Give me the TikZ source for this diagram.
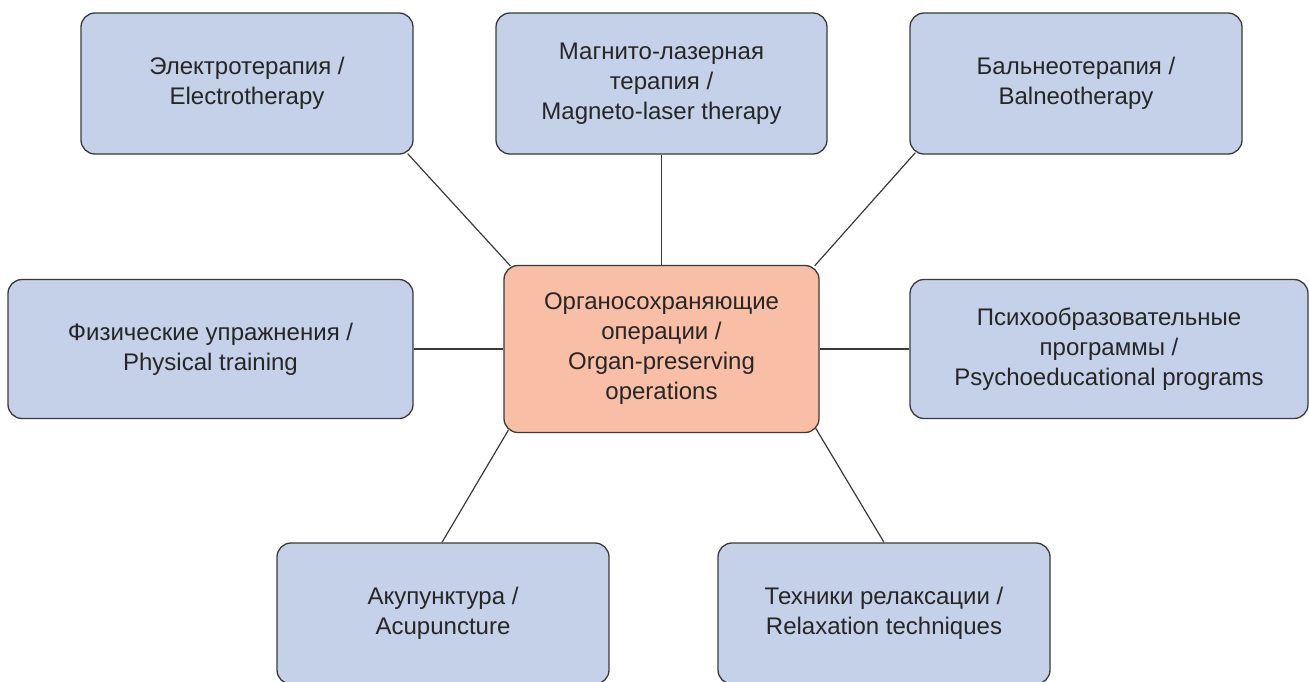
\documentclass[tikz,border=0pt]{standalone}
\usepackage{fontspec}
\setmainfont{Liberation Sans}
\definecolor{boxblue}{HTML}{C5D0E9}
\definecolor{boxsalmon}{HTML}{F8BEA6}
\definecolor{edgegray}{HTML}{3A3A3A}
\definecolor{txtgray}{HTML}{262626}
\begin{document}
\begin{tikzpicture}[x=1pt,y=-1pt,
  base/.style={draw=edgegray, line width=1.3pt, rounded corners=14pt, inner sep=0pt,
    align=center, text=txtgray, font=\fontsize{24}{30}\selectfont},
  leaf/.style={base, fill=boxblue},
  hub/.style={base, fill=boxsalmon},
  link/.style={draw=edgegray, line width=1.2pt}]
\useasboundingbox (0,0) rectangle (1309,681);
\node[hub, minimum width=315pt, minimum height=167pt] (c) at (661.5,349)
  {Органосохраняющие\\операции /\\Organ-preserving\\operations};
\node[leaf, minimum width=332pt, minimum height=141pt] (el) at (247,83.5)
  {Электротерапия /\\Electrotherapy};
\node[leaf, minimum width=331pt, minimum height=141pt] (mg) at (661.5,83.5)
  {Магнито-лазерная\\терапия /\\Magneto-laser therapy};
\node[leaf, minimum width=332pt, minimum height=141pt] (bl) at (1076,83.5)
  {Бальнеотерапия /\\Balneotherapy};
\node[leaf, minimum width=405pt, minimum height=139pt] (ph) at (210.5,349)
  {Физические упражнения /\\Physical training};
\node[leaf, minimum width=398pt, minimum height=139pt] (ps) at (1109,349)
  {Психообразовательные\\программы /\\Psychoeducational programs};
\node[leaf, minimum width=332pt, minimum height=141pt] (ac) at (443,613.5)
  {Акупунктура /\\Acupuncture};
\node[leaf, minimum width=332pt, minimum height=141pt] (rx) at (884,613.5)
  {Техники релаксации /\\Relaxation techniques};
\draw[link] ([shift={(-6,-1)}]el.south east) -- ([shift={(7,1)}]c.north west);
\draw[link] (mg.south) -- (c.north);
\draw[link] ([shift={(6,-2)}]bl.south west) -- ([shift={(-5,1)}]c.north east);
\draw[link] (ph.east) -- (c.west);
\draw[link] (ps.west) -- (c.east);
\draw[link] ([shift={(5,-3)}]c.south west) -- ([shift={(-1,0)}]ac.north);
\draw[link] ([shift={(-4,-5)}]c.south east) -- (rx.north);
\end{tikzpicture}
\end{document}
